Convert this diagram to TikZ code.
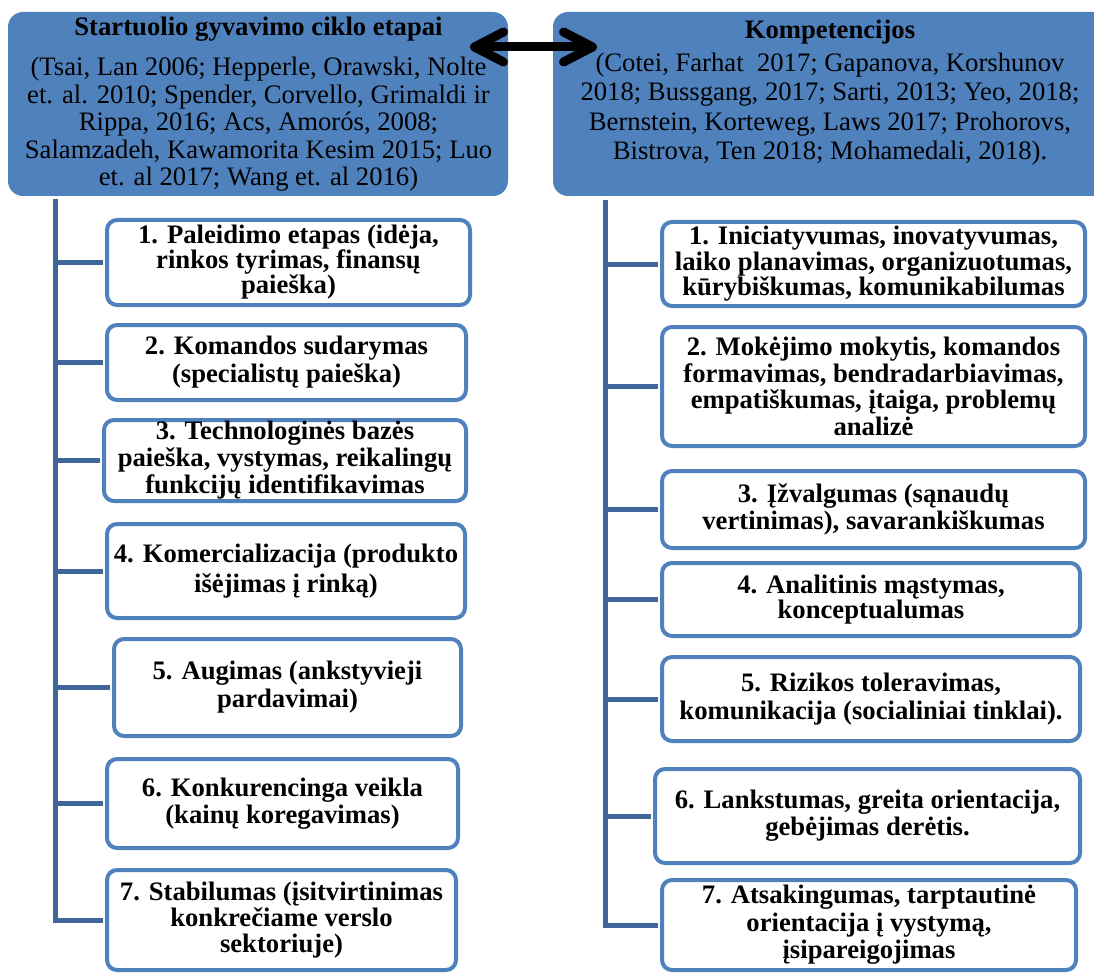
\documentclass[tikz,border=0pt]{standalone}
\usepackage{fontspec}
\setmainfont{Liberation Serif}
\usetikzlibrary{arrows.meta}
\definecolor{hdrblue}{HTML}{4F81BD}
\definecolor{brdblue}{HTML}{4F81BD}
\definecolor{trunkblue}{HTML}{3E6699}
\newcommand\bxf[1]{\bfseries\fontsize{26.67}{#1}\selectfont\lineskiplimit=-100pt}
\newcommand\hdf[1]{\fontsize{26.67}{#1}\selectfont\lineskiplimit=-100pt}
\tikzset{
  hdr/.style={fill=hdrblue, draw=none, rounded corners=15pt, inner sep=0pt},
  hdrtext/.style={align=center, inner sep=0pt, text=black},
  itembox/.style={draw=brdblue, line width=4pt, fill=white, rounded corners=10pt,
    align=center, inner sep=0pt},
  link/.style={draw=trunkblue, line width=5pt, shorten >=2pt},
  biarrow/.style={line width=9pt, {Straight Barb[length=29pt,width=30pt,round]}-{Straight Barb[length=29pt,width=30pt,round]}},
}
\begin{document}
\begin{tikzpicture}[x=1pt, y=-1pt]
\useasboundingbox (0,0) rectangle (1094,976);
\clip (0,0) rectangle (1094,976);

% headers
\node[hdr, minimum width=500, minimum height=184] (lh) at (258,104) {};
\node[hdrtext, anchor=north, font=\hdf{27.5}] (lhtext) at (258.5,17)
  {\textbf{Startuolio gyvavimo ciklo etapai}\\[12.5pt]
   (Tsai, Lan 2006; Hepperle, Orawski, Nolte\\
   et. al. 2010; Spender, Corvello, Grimaldi ir\\
   Rippa, 2016; Acs, Amorós, 2008;\\
   Salamzadeh, Kawamorita Kesim 2015; Luo\\
   et. al 2017; Wang et. al 2016)};

\node[hdr, minimum width=554, minimum height=184] (rh) at (830,104) {};
\node[hdrtext, anchor=north, font=\hdf{29.5}] (rhtext) at (830,19.5)
  {\textbf{Kompetencijos}\\[3.5pt]
   (Cotei, Farhat~ 2017; Gapanova, Korshunov\\
   2018; Bussgang, 2017; Sarti, 2013; Yeo, 2018;\\
   Bernstein, Korteweg, Laws 2017; Prohorovs,\\
   Bistrova, Ten 2018; Mohamedali, 2018).};

% arrow between headers
\coordinate (al) at (470,47);
\coordinate (ar) at (597,47);
\draw[biarrow] (al) -- (ar);

% left boxes
\node[itembox, minimum width=363, minimum height=85, font=\bxf{25}] (lb1) at (288.5,262.5)
  {1. Paleidimo etapas (idėja,\\ rinkos tyrimas, finansų\\ paieška)};
\node[itembox, minimum width=359, minimum height=75, font=\bxf{28}] (lb2) at (286.5,362.5)
  {2. Komandos sudarymas\\ (specialistų paieška)};
\node[itembox, minimum width=362, minimum height=81, font=\bxf{27}] (lb3) at (285,460.5)
  {3. Technologinės bazės\\ paieška, vystymas, reikalingų\\ funkcijų identifikavimas};
\node[itembox, minimum width=358, minimum height=94, font=\bxf{30}] (lb4) at (286,571)
  {4. Komercializacija (produkto\\ išėjimas į rinką)};
\node[itembox, minimum width=347, minimum height=97, font=\bxf{28}] (lb5) at (287.5,687.5)
  {5. Augimas (ankstyvieji\\ pardavimai)};
\node[itembox, minimum width=351, minimum height=89, font=\bxf{27}] (lb6) at (282.5,803.5)
  {6. Konkurencinga veikla\\ (kainų koregavimas)};
\node[itembox, minimum width=349, minimum height=100, font=\bxf{26}] (lb7) at (281.5,920)
  {7. Stabilumas (įsitvirtinimas\\ konkrečiame verslo\\ sektoriuje)};

% right boxes
\node[itembox, minimum width=423, minimum height=84, font=\bxf{25.5}] (rb1) at (873.5,264)
  {1. Iniciatyvumas, inovatyvumas,\\ laiko planavimas, organizuotumas,\\ kūrybiškumas, komunikabilumas};
\node[itembox, minimum width=423, minimum height=119, font=\bxf{26.5}] (rb2) at (873.5,386.5)
  {2. Mokėjimo mokytis, komandos\\ formavimas, bendradarbiavimas,\\ empatiškumas, įtaiga, problemų\\ analizė};
\node[itembox, minimum width=423, minimum height=77, font=\bxf{27}] (rb3) at (873.5,509.5)
  {3. Įžvalgumas (sąnaudų\\ vertinimas), savarankiškumas};
\node[itembox, minimum width=418, minimum height=73, font=\bxf{25}] (rb4) at (871,599.5)
  {4. Analitinis mąstymas,\\ konceptualumas};
\node[itembox, minimum width=418, minimum height=84, font=\bxf{28}] (rb5) at (871,699)
  {5. Rizikos toleravimas,\\ komunikacija (socialiniai tinklai).};
\node[itembox, minimum width=425, minimum height=94, font=\bxf{27}] (rb6) at (867.5,816)
  {6. Lankstumas, greita orientacija,\\ gebėjimas derėtis.};
\node[itembox, minimum width=414, minimum height=90, font=\bxf{27.5}] (rb7) at (869,925)
  {7. Atsakingumas, tarptautinė\\ orientacija į vystymą,\\ įsipareigojimas};

% trunks and branches
\coordinate (lt) at (55,199);
\coordinate (rt) at (605,200);
\draw[link] (lt) |- (lb7.west);
\foreach \i in {1,...,6} { \draw[link] (lt |- lb\i.west) -- (lb\i.west); }
\draw[link] (rt) |- (rb7.west);
\foreach \i in {1,...,6} { \draw[link] (rt |- rb\i.west) -- (rb\i.west); }
\end{tikzpicture}
\end{document}
